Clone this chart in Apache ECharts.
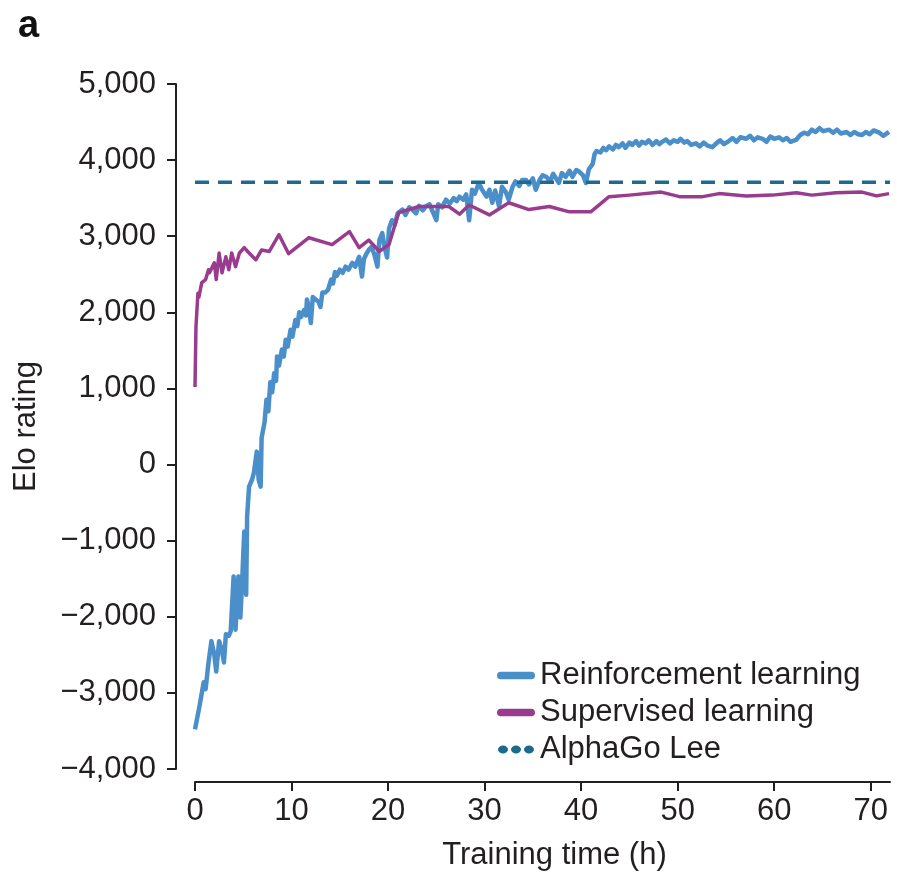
<!DOCTYPE html>
<html>
<head>
<meta charset="utf-8">
<script src="https://cdn.jsdelivr.net/npm/echarts@6/dist/echarts.min.js"></script>
<style>
  html, body { margin: 0; padding: 0; background: #fff; }
  #chart { width: 897px; height: 876px; }
</style>
</head>
<body>
<div id="chart"></div>
<script>
// training time (h) and Elo for the reinforcement learning run
const rlHours = [
  0, 0.5, 0.9, 1.1, 1.4, 1.7, 2.0, 2.2, 2.5, 2.8, 3.0, 3.2, 3.5, 3.7, 4.0, 4.2, 4.5, 4.7, 4.9, 5.1,
  5.3, 5.4, 5.6, 5.9, 6.1, 6.4, 6.6, 6.8, 6.9, 7.2, 7.4, 7.6, 7.8, 8.0, 8.2, 8.4, 8.5, 8.7, 9.0, 9.2,
  9.4, 9.6, 9.9, 10.1, 10.4, 10.6, 10.8, 11.0, 11.3, 11.5, 11.6, 11.8, 12.0, 12.2, 12.5, 12.8, 13.0, 13.2, 13.5, 13.8,
  14.1, 14.3, 14.5, 14.7, 15.0, 15.3, 15.6, 15.9, 16.3, 16.6, 17.0, 17.3, 17.5, 17.8, 18.0, 18.3, 18.6, 18.9, 19.1, 19.4,
  19.6, 19.9, 20.1, 20.4, 20.7, 21.0, 21.5, 21.8, 22.2, 22.5, 22.9, 23.2, 23.6, 23.9, 24.3, 24.6, 25.0, 25.2, 25.6, 26.0,
  26.4, 26.8, 27.1, 27.4, 27.8, 28.1, 28.4, 28.7, 29.0, 29.4, 29.7, 30.0, 30.2, 30.5, 30.8, 31.1, 31.5, 31.8, 32.2, 32.5,
  32.9, 33.2, 33.6, 33.9, 34.3, 34.6, 35.0, 35.3, 35.7, 36.0, 36.4, 36.8, 37.1, 37.4, 37.7, 38.0, 38.4, 38.8, 39.1, 39.5,
  39.8, 40.2, 40.5, 40.8, 41.0, 41.2, 41.4, 41.6, 42.0, 42.3, 42.6, 42.9, 43.3, 43.6, 43.9, 44.3, 44.6, 45.0, 45.3, 45.7,
  46.0, 46.3, 46.7, 47.0, 47.4, 47.8, 48.1, 48.4, 48.8, 49.2, 49.6, 50.0, 50.3, 50.7, 51.0, 51.4, 51.9, 52.3, 52.7, 53.1,
  53.6, 54.0, 54.4, 54.8, 55.3, 55.7, 56.1, 56.5, 57.1, 57.5, 57.9, 58.3, 58.8, 59.2, 59.6, 60.0, 60.5, 60.9, 61.3, 61.7,
  62.3, 62.7, 63.1, 63.5, 63.9, 64.3, 64.7, 65.1, 65.7, 66.1, 66.5, 66.9, 67.5, 67.9, 68.3, 68.7, 69.1, 69.5, 69.9, 70.3,
  70.9, 71.3, 71.9
];
const rlElo = [
  -3480, -3150, -2860, -2950, -2600, -2320, -2500, -2720, -2320, -2450, -2600, -2230, -2250, -2190, -1470, -2170, -1470, -2010, -1490, -880,
  -1710, -680, -290, -200, -110, 170, -200, -290, 350, 550, 850, 700, 1080, 950, 1200, 1100, 1420, 1300, 1510, 1420,
  1640, 1550, 1770, 1680, 1900, 1820, 2000, 1940, 2030, 1960, 2170, 2050, 1860, 2200, 2170, 2140, 2070, 2260, 2260, 2300,
  2430, 2380, 2530, 2480, 2560, 2520, 2600, 2560, 2650, 2600, 2730, 2470, 2700, 2780, 2820, 2860, 2750, 2600, 2950, 3040,
  2880, 2720, 3100, 3210, 3150, 3300, 3350, 3280, 3380, 3350, 3300, 3400, 3340, 3390, 3420, 3330, 3210, 3420, 3380, 3480,
  3430, 3500, 3460, 3520, 3480, 3550, 3210, 3610, 3560, 3700, 3620, 3560, 3520, 3610, 3440, 3600, 3390, 3650, 3580, 3480,
  3650, 3720, 3660, 3740, 3740, 3680, 3760, 3610, 3740, 3800, 3780, 3720, 3820, 3760, 3700, 3830, 3780, 3860, 3780, 3870,
  3850, 3800, 3700, 3880, 3870, 3950, 4080, 4120, 4100, 4160, 4130, 4180, 4140, 4200, 4170, 4220, 4160, 4230, 4200, 4250,
  4190, 4240, 4220, 4260, 4200, 4250, 4210, 4240, 4270, 4220, 4260, 4240, 4280, 4230, 4250, 4200, 4220, 4180, 4230, 4190,
  4170, 4220, 4260, 4210, 4250, 4290, 4240, 4300, 4280, 4320, 4260, 4300, 4280, 4240, 4310, 4280, 4300, 4260, 4290, 4240,
  4270, 4330, 4360, 4340, 4400, 4370, 4420, 4380, 4400, 4360, 4400, 4350, 4370, 4330, 4370, 4340, 4330, 4370, 4340, 4390,
  4360, 4320, 4370
];

// supervised learning run
const slHours = [
  0, 0.1, 0.3, 0.4, 0.7, 1.1, 1.4, 1.5, 2.0, 2.2, 2.5, 2.8, 3.2, 3.5, 3.8, 4.2, 4.6, 5.1, 5.6, 6.3,
  6.9, 7.7, 8.7, 9.7, 11.8, 14.2, 16.0, 17.0, 18.0, 19.1, 20.1, 21.1, 23.2, 26.3, 27.4, 28.4, 30.5, 32.5, 34.6, 36.7,
  38.8, 41.0, 42.9, 45.0, 48.3, 50.2, 52.6, 54.3, 57.1, 59.8, 62.3, 63.9, 66.4, 69.1, 70.6, 71.9
];
const slElo = [
  1020, 1810, 2250, 2200, 2390, 2430, 2560, 2520, 2650, 2430, 2780, 2520, 2730, 2560, 2780, 2600, 2780, 2850, 2780, 2690,
  2820, 2800, 3020, 2770, 2980, 2890, 3060, 2850, 2950, 2800, 2890, 3310, 3390, 3390, 3290, 3410, 3280, 3440, 3350, 3390,
  3320, 3320, 3520, 3540, 3580, 3520, 3520, 3560, 3530, 3540, 3570, 3540, 3570, 3580, 3530, 3560
];

// AlphaGo Lee reference level
const leeHours = [0, 72];
const leeElo = [3710, 3710];

const xMin = 0, xMax = 72, xStep = 10;
const yMin = -4000, yMax = 5000, yStep = 1000;

const ink = '#231f20';
const font = 'Liberation Sans, Arial, Helvetica, sans-serif';
const textSize = 31;

function zip (xs, ys) {
  return xs.map(function (x, i) { return [x, ys[i]]; });
}

function eloLabel (v) {
  const s = Math.abs(v).toLocaleString('en-US');
  return v < 0 ? '\u2212' + s : s;
}

const pill = 'path://M4,0 H36 A4,4 0 0 1 36,8 H4 A4,4 0 0 1 4,0 Z';
const dots = 'path://M0,4 a5,4 0 1,0 10,0 a5,4 0 1,0 -10,0 M13,4 a5,4 0 1,0 10,0 a5,4 0 1,0 -10,0 M26,4 a5,4 0 1,0 10,0 a5,4 0 1,0 -10,0';

const chart = echarts.init(document.getElementById('chart'), null, { renderer: 'canvas' });

chart.setOption({
  animation: false,
  backgroundColor: '#fff',
  textStyle: { fontFamily: font },
  title: {
    text: 'a',
    left: 13,
    top: 3,
    textStyle: { fontSize: 38, fontWeight: 'bold', color: '#111', fontFamily: font }
  },
  grid: { left: 195, right: 7, top: 84, bottom: 106, containLabel: false },
  legend: {
    orient: 'vertical',
    left: 492,
    top: 655,
    itemWidth: 38,
    itemHeight: 8,
    itemGap: 6,
    textStyle: { fontSize: textSize, color: ink, fontFamily: font },
    data: [
      { name: 'Reinforcement learning', icon: pill, itemStyle: { color: '#4a8fca' } },
      { name: 'Supervised learning', icon: pill, itemStyle: { color: '#993c8e' } },
      { name: 'AlphaGo Lee', icon: dots, itemStyle: { color: '#1d6a8f' } }
    ]
  },
  xAxis: {
    type: 'value',
    min: xMin,
    max: xMax,
    interval: xStep,
    offset: 13,
    name: 'Training time (h)',
    nameLocation: 'middle',
    nameGap: 58,
    nameTextStyle: { fontSize: textSize, color: ink, padding: [0, 0, 0, 24] },
    axisLine: { onZero: false, lineStyle: { color: ink, width: 2 } },
    axisTick: { length: 9, lineStyle: { color: ink, width: 2 } },
    axisLabel: { fontSize: textSize, color: ink, margin: 14 },
    splitLine: { show: false }
  },
  yAxis: {
    type: 'value',
    min: yMin,
    max: yMax,
    interval: yStep,
    offset: 19,
    name: 'Elo rating',
    nameLocation: 'middle',
    nameGap: 134,
    nameTextStyle: { fontSize: textSize, color: ink },
    axisLine: { show: true, onZero: false, lineStyle: { color: ink, width: 2 } },
    axisTick: { show: true, length: 9, lineStyle: { color: ink, width: 2 } },
    axisLabel: { fontSize: textSize, color: ink, margin: 20, formatter: eloLabel },
    splitLine: { show: false }
  },
  series: [
    {
      name: 'Reinforcement learning',
      type: 'line',
      data: zip(rlHours, rlElo),
      showSymbol: false,
      symbol: 'none',
      lineStyle: { color: '#4a8fca', width: 4.5, join: 'round' },
      itemStyle: { color: '#4a8fca' }
    },
    {
      name: 'Supervised learning',
      type: 'line',
      data: zip(slHours, slElo),
      showSymbol: false,
      symbol: 'none',
      lineStyle: { color: '#993c8e', width: 3.5, join: 'round' },
      itemStyle: { color: '#993c8e' }
    },
    {
      name: 'AlphaGo Lee',
      type: 'line',
      data: zip(leeHours, leeElo),
      showSymbol: false,
      symbol: 'none',
      lineStyle: { color: '#1d6a8f', width: 3.5, type: [14, 9] },
      itemStyle: { color: '#1d6a8f' }
    }
  ]
});
</script>
</body>
</html>
